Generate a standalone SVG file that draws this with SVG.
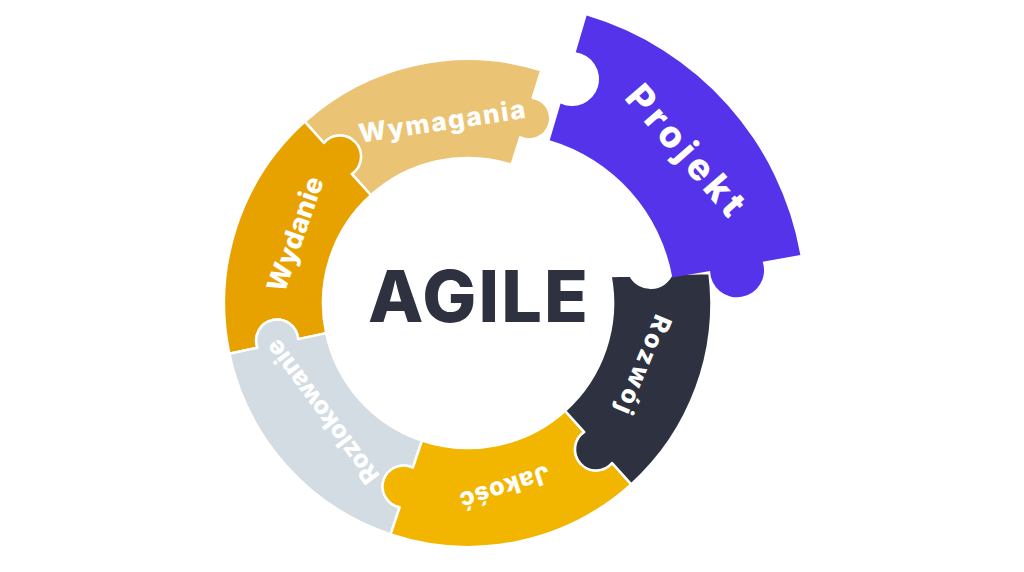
<svg xmlns="http://www.w3.org/2000/svg" width="1024" height="572" viewBox="0 0 1024 572">
<style>
.pc{stroke:#ffffff;stroke-width:2.5;stroke-linejoin:round}
.lbl{font-family:Inter,"Liberation Sans",sans-serif;font-weight:800;fill:#ffffff;text-anchor:middle}
.big{font-family:Inter,"Liberation Sans",sans-serif;font-weight:800;fill:#2e3240;text-anchor:middle}
</style>
<rect width="1024" height="572" fill="#ffffff"/>
<g id="wymagania">
<path class="pc" fill="#eac474" d="M304.73,121.67 A244,244 0 0 1 541.37,70.29 L532.74,97.66 A21,21 0 1 1 520.23,137.34 L511.60,164.71 A145,145 0 0 0 370.98,195.24 L351.77,173.92 A21,21 0 1 0 323.94,143.00 Z"/>
<text class="lbl" font-size="26" textLength="168" lengthAdjust="spacing" transform="translate(442,121) rotate(-8.5)" dy="0.36em">Wymagania</text>
</g>
<g id="wydanie">
<path class="pc" fill="#e8a200" d="M229.33,353.73 A244,244 0 0 1 304.73,121.67 L323.94,143.00 A21,21 0 1 1 351.77,173.92 L370.98,195.24 A145,145 0 0 0 326.17,333.15 L298.10,339.11 A21,21 0 1 0 257.41,347.76 Z"/>
<text class="lbl" font-size="27" textLength="120" lengthAdjust="spacing" transform="translate(295,234) rotate(-70.7)" dy="0.36em">Wydanie</text>
</g>
<g id="rozlokowanie">
<path class="pc" fill="#d3dce3" d="M390.58,534.39 A244,244 0 0 1 229.33,353.73 L257.41,347.76 A21,21 0 1 1 298.10,339.11 L326.17,333.15 A145,145 0 0 0 421.99,440.51 L412.89,467.72 A21,21 0 1 0 399.69,507.17 Z"/>
<text class="lbl" font-size="25" textLength="172" lengthAdjust="spacing" transform="translate(322,412) rotate(233.5)" dy="0.36em">Rozlokowanie</text>
</g>
<g id="jakosc">
<path class="pc" fill="#f2b600" d="M631.27,484.33 A244,244 0 0 1 390.58,534.39 L399.69,507.17 A21,21 0 1 1 412.89,467.72 L421.99,440.51 A145,145 0 0 0 565.02,410.76 L584.23,432.08 A21,21 0 1 0 612.06,463.00 Z"/>
<text class="lbl" font-size="25" textLength="93" lengthAdjust="spacing" transform="translate(505,488) rotate(162)" dy="0.36em">Jakość</text>
</g>
<g id="rozwoj">
<path class="pc" fill="#2e3240" d="M610.5,276 L630.3,275.4 A23,23 0 0 0 671.7,274.1 L709.5,273 A244,244 0 0 1 631.27,484.33 L612.06,463.00 A21,21 0 1 1 584.23,432.08 L565.02,410.76 A145,145 0 0 0 610.5,276 Z"/>
<text class="lbl" font-size="25" textLength="105" lengthAdjust="spacing" transform="translate(644,365) rotate(112.8)" dy="0.36em">Rozwój</text>
</g>
<g id="projekt">
<path fill="#5433ea" d="M586.63,15.56 A305,305 0 0 1 800.37,255.04 L762.65,261.69 A27,27 0 1 1 710.06,270.96 L672.34,277.61 A175,175 0 0 0 549.70,140.21 L560.58,103.48 A27,27 0 1 0 575.75,52.28 Z"/>
<text class="lbl" font-size="37" textLength="160" lengthAdjust="spacing" transform="translate(686,150) rotate(49)" dy="0.36em">Projekt</text>
</g>
<g id="agile">
<text class="big" font-size="72" textLength="220" lengthAdjust="spacing" x="478" y="322">AGILE</text>
</g>
<g id="connectors"></g>
</svg>
